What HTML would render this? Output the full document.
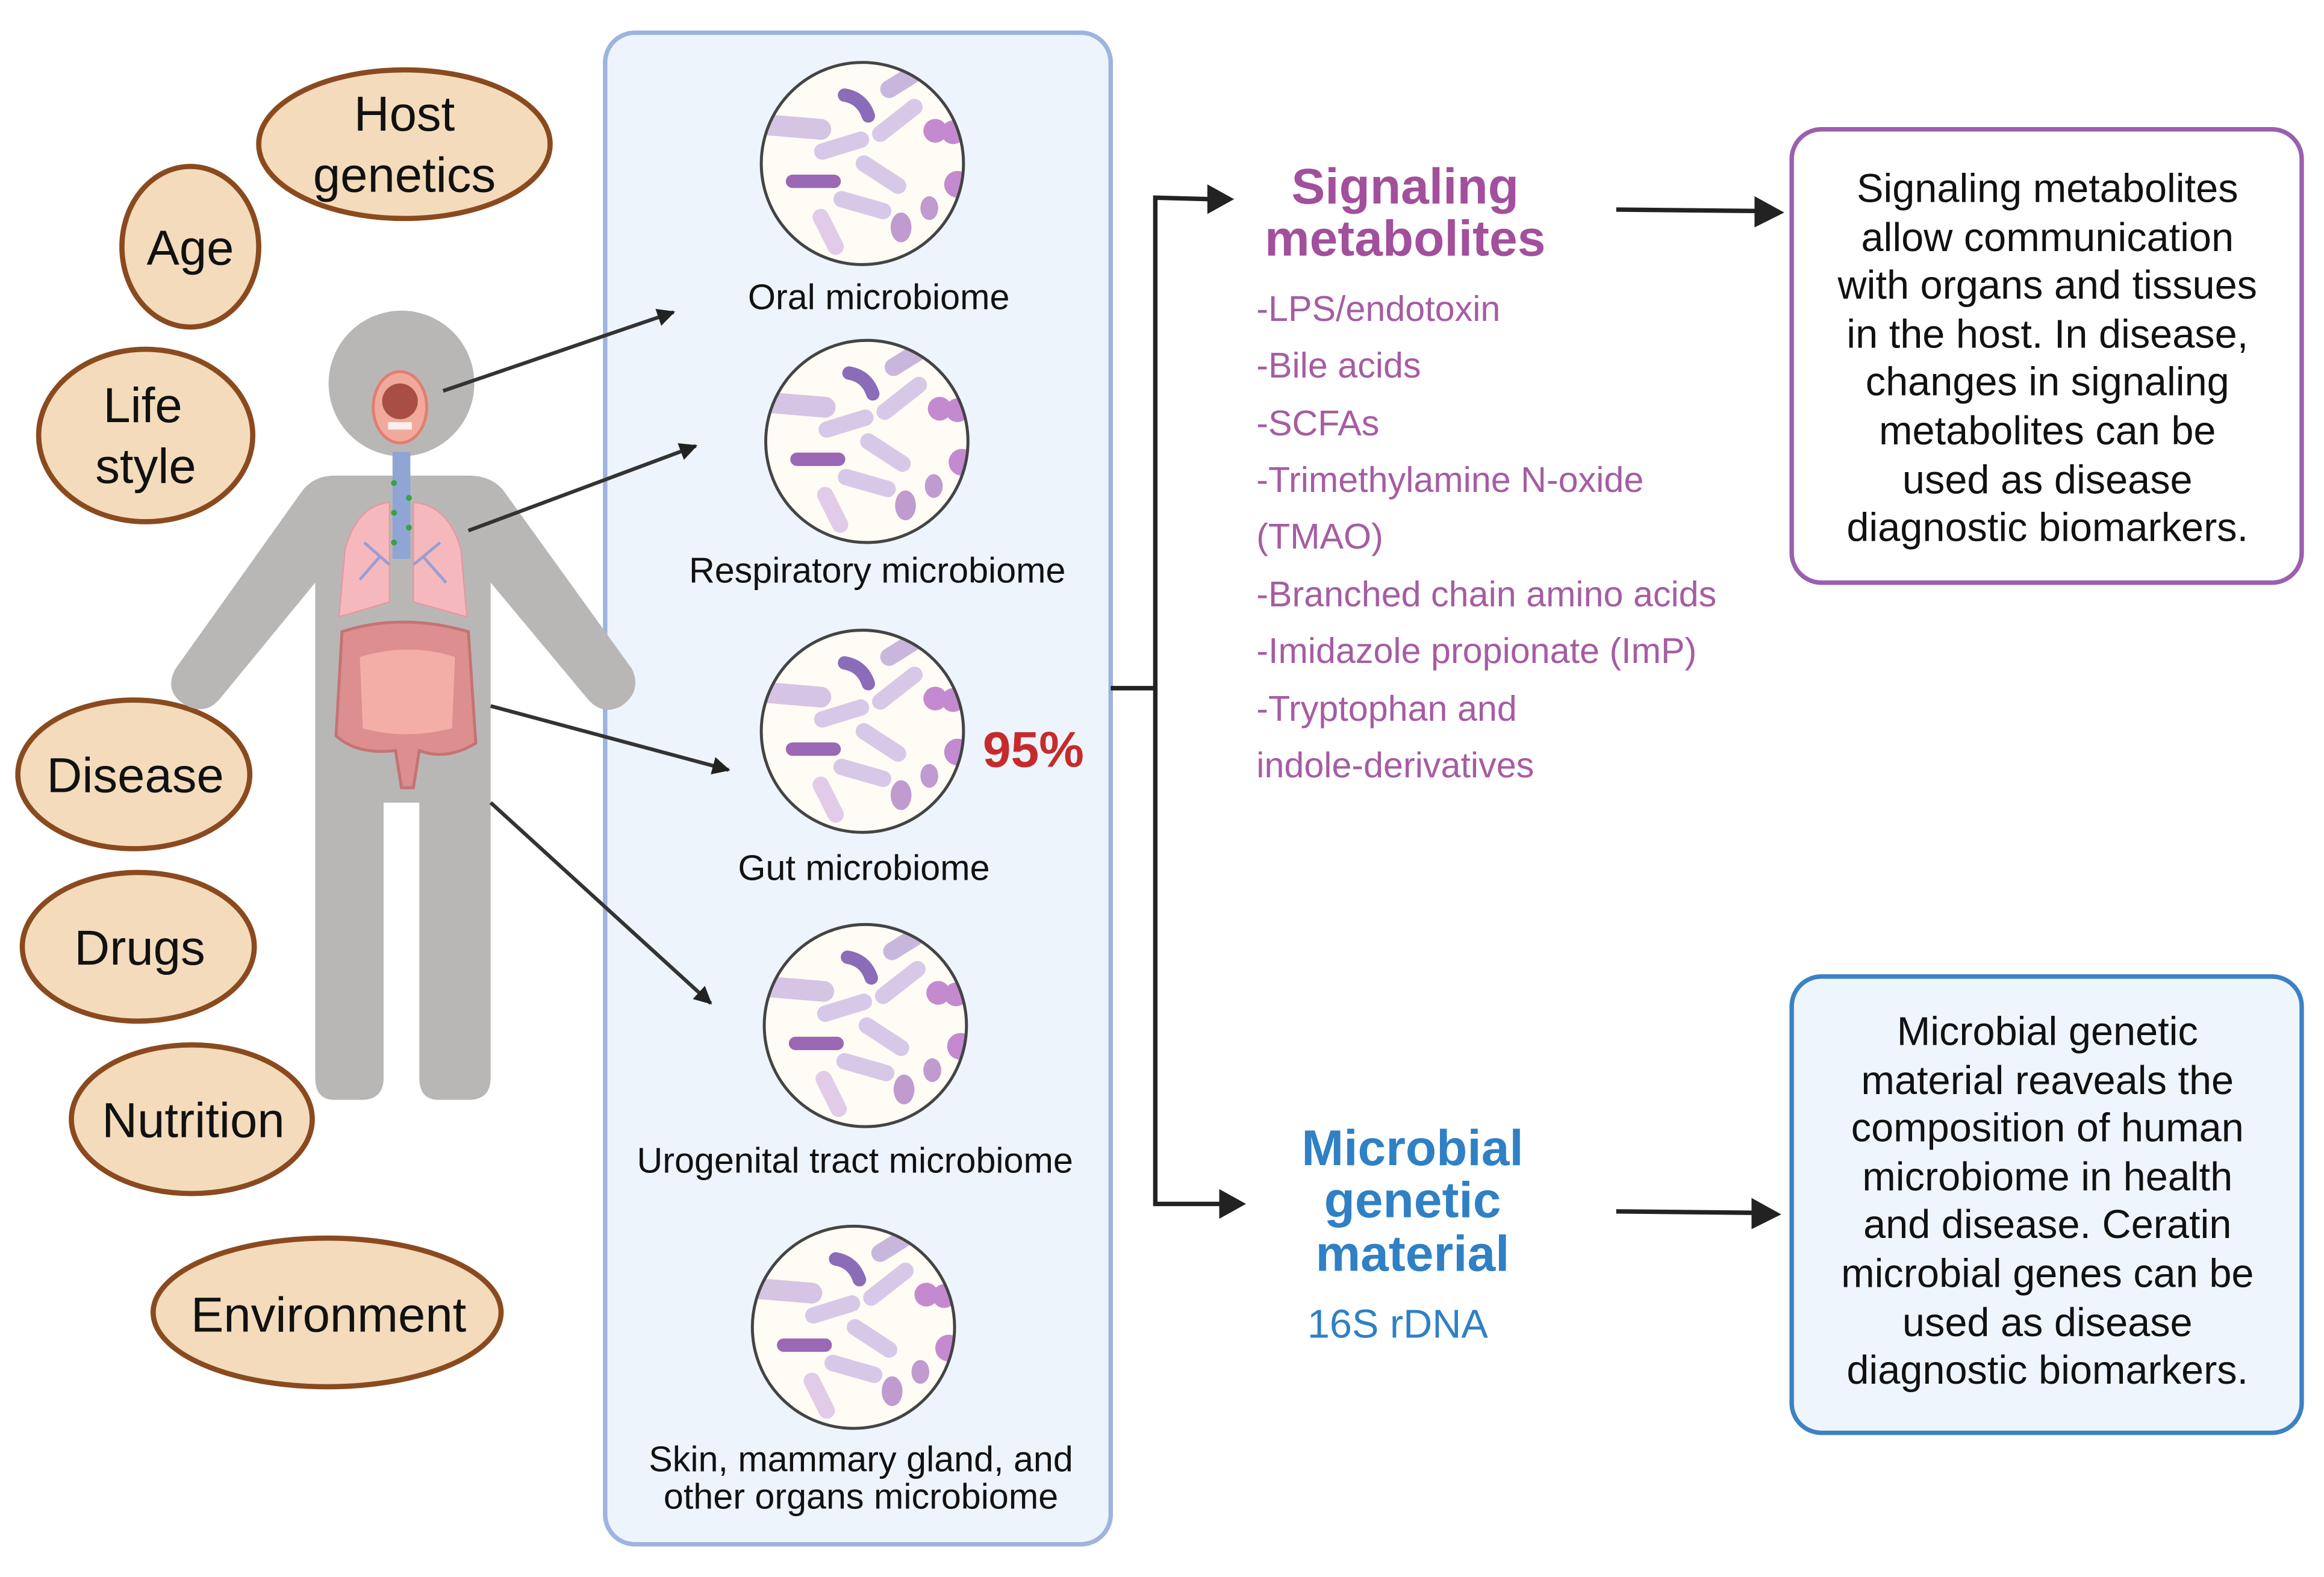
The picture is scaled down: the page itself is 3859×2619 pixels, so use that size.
<!DOCTYPE html>
<html><head><meta charset="utf-8"><style>
html,body{margin:0;padding:0;background:#fff;}
svg{display:block;}
text{font-family:"Liberation Sans",sans-serif;}
</style></head><body>
<svg width="3859" height="2619" viewBox="0 0 1563 1061" preserveAspectRatio="none" xmlns="http://www.w3.org/2000/svg">
<defs>
<marker id="ah" viewBox="0 0 10 10" refX="9" refY="5" markerWidth="14" markerHeight="12" orient="auto" markerUnits="userSpaceOnUse"><path d="M0,0 L10,5 L0,10 z" fill="#222"/></marker>
<clipPath id="cc"><circle cx="0" cy="0" r="68"/></clipPath>
<g id="mic">
<circle cx="0" cy="0" r="68" fill="#fefcf4"/>
<g clip-path="url(#cc)" stroke-linecap="round" fill="none">
<path d="M-12,-46 Q0,-44 4,-32" stroke="#8a6cb8" stroke-width="9"/>
<line x1="18" y1="-50" x2="34" y2="-60" stroke="#c9b6dd" stroke-width="12"/>
<line x1="-64" y1="-26" x2="-28" y2="-23" stroke="#d6c4e4" stroke-width="14"/>
<line x1="12" y1="-20" x2="35" y2="-38" stroke="#d8c8e8" stroke-width="11"/>
<line x1="-27" y1="-8" x2="-1" y2="-16" stroke="#d8c8e8" stroke-width="11"/>
<line x1="-47" y1="12" x2="-19" y2="12" stroke="#9a68b5" stroke-width="9"/>
<line x1="1" y1="0" x2="24" y2="15" stroke="#d8c8e8" stroke-width="11"/>
<line x1="-14" y1="24" x2="14" y2="32" stroke="#d8c8e8" stroke-width="11"/>
<line x1="-28" y1="36" x2="-18" y2="56" stroke="#e2cbe8" stroke-width="11"/>
<circle cx="49" cy="-22" r="8" fill="#c48ad0"/>
<circle cx="61" cy="-21" r="8" fill="#c48ad0"/>
<circle cx="64" cy="14" r="9" fill="#c48ad0"/>
<ellipse cx="26" cy="43" rx="7" ry="10" fill="#bf9bd0"/>
<ellipse cx="45" cy="30" rx="6" ry="8" fill="#bf9bd0"/>
</g>
<circle cx="0" cy="0" r="68" fill="none" stroke="#444" stroke-width="2"/>
</g>
</defs>

<!-- ovals -->
<g fill="#f4dbbb" stroke="#8a4a1f" stroke-width="3.5">
<ellipse cx="272" cy="97" rx="98" ry="50"/>
<ellipse cx="128" cy="166" rx="46" ry="54"/>
<ellipse cx="98" cy="293" rx="72" ry="58"/>
<ellipse cx="90" cy="521" rx="78" ry="50"/>
<ellipse cx="93" cy="637" rx="78" ry="50"/>
<ellipse cx="129" cy="753" rx="81" ry="50"/>
<ellipse cx="220" cy="883" rx="117" ry="50"/>
</g>
<g font-size="33" fill="#111" text-anchor="middle">
<text x="272" y="88">Host</text><text x="272" y="129">genetics</text>
<text x="128" y="178">Age</text>
<text x="96" y="284">Life</text><text x="98" y="325">style</text>
<text x="91" y="533">Disease</text>
<text x="94" y="649">Drugs</text>
<text x="130" y="765">Nutrition</text>
<text x="221" y="896">Environment</text>
</g>

<!-- microbiome box -->
<rect x="407" y="22" width="340" height="1017" rx="20" fill="#edf4fc" stroke="#9db4df" stroke-width="3"/>

<!-- body -->
<g fill="#b9b7b6">
<circle cx="270" cy="258" r="49"/>
<path d="M225,320 L315,320 Q332,320 340,332 L425,450 Q432,465 418,475 Q405,482 395,470 L330,392 L330,725 Q330,740 315,740 L295,740 Q282,740 282,725 L282,540 L258,540 L258,725 Q258,740 243,740 L225,740 Q212,740 212,725 L212,392 L148,470 Q138,482 124,474 Q110,465 118,450 L202,332 Q210,320 225,320 Z"/>
</g>
<!-- mouth -->
<ellipse cx="269" cy="274" rx="18" ry="24" fill="#f1a99b" stroke="#e07f72" stroke-width="2"/>
<ellipse cx="269" cy="270" rx="12" ry="12" fill="#a84e45"/>
<rect x="261" y="284" width="16" height="5" fill="#fff" opacity="0.8"/>
<!-- trachea -->
<rect x="264" y="304" width="12" height="72" fill="#8fa6d4"/>
<g fill="#3aa04a"><circle cx="265" cy="325" r="2"/><circle cx="275" cy="335" r="2"/><circle cx="265" cy="345" r="2"/><circle cx="275" cy="355" r="2"/><circle cx="265" cy="365" r="2"/></g>
<!-- lungs -->
<path d="M262,338 Q240,340 232,370 L228,415 Q245,410 262,405 Z" fill="#f5b9bd" stroke="#e39aa0"/>
<path d="M278,338 Q302,340 310,370 L314,415 Q296,410 278,405 Z" fill="#f5b9bd" stroke="#e39aa0"/>
<path d="M262,380 L245,365 M255,375 L242,390 M278,380 L296,365 M285,375 L300,392" stroke="#9a9ed4" stroke-width="2" fill="none"/>
<!-- intestines -->
<path d="M230,425 Q270,412 315,425 L320,500 Q300,512 282,505 L278,530 L270,530 L266,505 Q240,508 226,495 Z" fill="#dd8e8e" stroke="#c47474" stroke-width="2"/>
<path d="M242,442 Q275,432 306,442 L304,490 Q272,498 244,490 Z" fill="#f3aea8"/>

<use href="#mic" x="580" y="110"/>
<use href="#mic" x="583" y="297"/>
<use href="#mic" x="580" y="492"/>
<use href="#mic" x="582" y="690"/>
<use href="#mic" x="574" y="893"/>
<g font-size="24" fill="#111" text-anchor="middle">
<text x="591" y="208">Oral microbiome</text>
<text x="590" y="392">Respiratory microbiome</text>
<text x="581" y="592">Gut microbiome</text>
<text x="575" y="789">Urogenital tract microbiome</text>
<text x="579" y="990">Skin, mammary gland, and</text>
<text x="579" y="1015">other organs microbiome</text>
</g>
<text x="695" y="516" font-size="34" font-weight="bold" fill="#c62b2b" text-anchor="middle">95%</text>

<!-- body arrows -->
<g stroke="#333" stroke-width="2.5" marker-end="url(#ah)">
<line x1="298" y1="263" x2="453" y2="210"/>
<line x1="315" y1="357" x2="468" y2="300"/>
<line x1="330" y1="475" x2="490" y2="518"/>
<line x1="330" y1="540" x2="478" y2="675"/>
</g>

<!-- connector -->
<g stroke="#222" stroke-width="3" fill="none">
<line x1="747" y1="463" x2="777" y2="463"/>
<polyline points="815,134 777,133 777,810 822,810"/>
</g>
<path d="M812,124 L830,134 L812,144 Z" fill="#222"/>
<path d="M820,800 L838,810 L820,820 Z" fill="#222"/>
<line x1="1087" y1="141" x2="1185" y2="142" stroke="#222" stroke-width="3"/>
<path d="M1180,132 L1200,143 L1180,153 Z" fill="#222"/>
<line x1="1087" y1="815" x2="1183" y2="816" stroke="#222" stroke-width="3"/>
<path d="M1178,806 L1198,817 L1178,827 Z" fill="#222"/>

<!-- signaling -->
<g font-size="34" font-weight="bold" fill="#a24f9c" text-anchor="middle">
<text x="945" y="137">Signaling</text><text x="945" y="172">metabolites</text>
</g>
<g font-size="24" fill="#a65ca3">
<text x="845" y="216">-LPS/endotoxin</text>
<text x="845" y="254">-Bile acids</text>
<text x="845" y="293">-SCFAs</text>
<text x="845" y="331">-Trimethylamine N-oxide</text>
<text x="845" y="369">(TMAO)</text>
<text x="845" y="408">-Branched chain amino acids</text>
<text x="845" y="446">-Imidazole propionate (ImP)</text>
<text x="845" y="485">-Tryptophan and</text>
<text x="845" y="523">indole-derivatives</text>
</g>

<rect x="1205" y="87" width="343" height="305" rx="20" fill="#fff" stroke="#9a5fae" stroke-width="3"/>
<g font-size="27" fill="#111" text-anchor="middle">
<text x="1377" y="136">Signaling metabolites</text>
<text x="1377" y="169">allow communication</text>
<text x="1377" y="201">with organs and tissues</text>
<text x="1377" y="234">in the host. In disease,</text>
<text x="1377" y="266">changes in signaling</text>
<text x="1377" y="299">metabolites can be</text>
<text x="1377" y="332">used as disease</text>
<text x="1377" y="364">diagnostic biomarkers.</text>
</g>

<!-- microbial genetic -->
<g font-size="34" font-weight="bold" fill="#2f80c4" text-anchor="middle">
<text x="950" y="784">Microbial</text><text x="950" y="819">genetic</text><text x="950" y="855">material</text>
</g>
<text x="940" y="900" font-size="27" fill="#2f80c4" text-anchor="middle">16S rDNA</text>

<rect x="1205" y="657" width="343" height="307" rx="20" fill="#eef5fc" stroke="#3b82c4" stroke-width="3"/>
<g font-size="27" fill="#111" text-anchor="middle">
<text x="1377" y="703">Microbial genetic</text>
<text x="1377" y="736">material reaveals the</text>
<text x="1377" y="768">composition of human</text>
<text x="1377" y="801">microbiome in health</text>
<text x="1377" y="833">and disease. Ceratin</text>
<text x="1377" y="866">microbial genes can be</text>
<text x="1377" y="899">used as disease</text>
<text x="1377" y="931">diagnostic biomarkers.</text>
</g>
</svg>
</body></html>
